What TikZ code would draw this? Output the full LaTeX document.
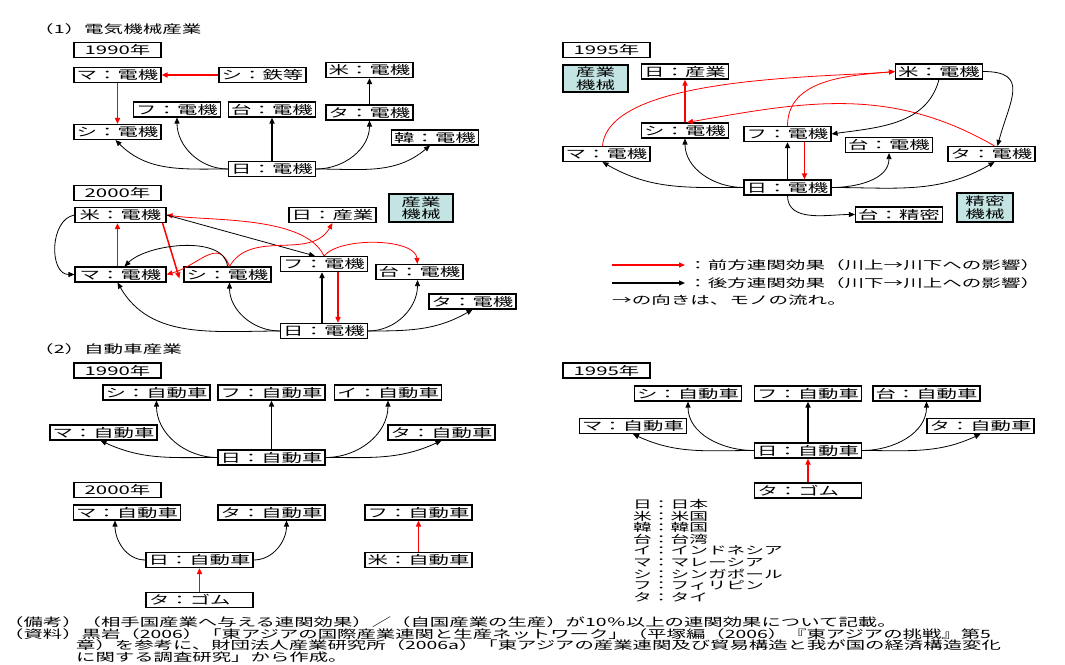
\documentclass[tikz,border=0pt]{standalone}
\usepackage{fontspec}
\setmainfont{Noto Sans CJK JP}[FakeStretch=1.7]
\usepackage{tikz}
\usetikzlibrary{arrows.meta}
\definecolor{paleteal}{HTML}{C4E4E4}

\begin{document}
\begin{tikzpicture}[x=1pt,y=1pt,
  bx/.style={draw,line width=1.1pt,fill=white,inner sep=1pt,minimum width=87pt,minimum height=15pt,font=\fontsize{12}{12}\selectfont},
  abx/.style={bx,minimum width=107pt},
  gbx/.style={abx,text width=101pt,align=left},
  tl/.style={draw,line width=1.1pt,fill=paleteal,inner sep=1pt,align=center,font=\fontsize{11.5}{12.5}\selectfont},
  fw/.style={-{Triangle[length=6pt,width=5pt]},red,line width=0.8pt},
  fws/.style={fw,line width=1.5pt},
  bw/.style={-{Triangle[length=6pt,width=5pt]},black,line width=0.8pt},
  bws/.style={bw,line width=1.5pt},
  txt/.style={inner sep=0pt,anchor=west,font=\fontsize{11.5}{12}\selectfont}]
  \path[use as bounding box,fill=white] (0,0) rectangle (1065,-664);

  \node[txt] (t1) at (34,-29) {（1）電気機械産業};
  \node[bx] (y90a) at (117.5,-50) {1990年};
  \node[bx] (ma1) at (117.5,-75) {マ：電機};
  \node[bx] (sgst1) at (262.5,-75) {シ：鉄等};
  \node[bx] (us1) at (369.5,-70) {米：電機};
  \node[bx] (ph1) at (177,-109.5) {フ：電機};
  \node[bx] (tw1) at (272,-109.5) {台：電機};
  \node[bx] (th1) at (369.5,-112.5) {タ：電機};
  \node[bx] (sg1) at (117.5,-132) {シ：電機};
  \node[bx] (kr1) at (435,-137.5) {韓：電機};
  \node[bx] (jp1) at (272,-169) {日：電機};
  \draw[fws] (sgst1) -- (ma1);
  \draw[fws] (ma1) -- (sg1);
  \draw[bws] (jp1) -- (tw1);
  \draw[bws] (th1) -- (us1);
  \draw[bw] (jp1.west) to[out=180,in=-45] ([xshift=-2pt]sg1.south);
  \draw[bw] (jp1.west) to[out=180,in=-90] (ph1.south);
  \draw[bw] (jp1.east) to[out=0,in=-90] (th1.south);
  \draw[bw] (jp1.east) to[out=0,in=-140] ([xshift=-5pt]kr1.south);

  \node[bx] (y95a) at (606.5,-50) {1995年};
  \node[tl,minimum width=65pt,minimum height=27pt] (ki1) at (595.5,-78.5) {産業\\機械};
  \node[bx] (jpi2) at (685,-71.5) {日：産業};
  \node[bx] (us2) at (939,-71.5) {米：電機};
  \node[bx] (sg2) at (685,-130.5) {シ：電機};
  \node[bx] (ph2) at (787.5,-134) {フ：電機};
  \node[bx] (tw2) at (889,-145) {台：電機};
  \node[bx] (ma2) at (606.5,-154) {マ：電機};
  \node[bx] (th2) at (991.5,-154) {タ：電機};
  \node[bx] (jp2) at (787.5,-187.5) {日：電機};
  \node[bx] (twp2) at (899,-214.5) {台：精密};
  \node[tl,minimum width=56pt,minimum height=29pt] (ki2) at (985,-207.5) {精密\\機械};
  \draw[fws] (sg2) -- (jpi2);
  \draw[fw] ([xshift=-4pt]ma2.north) to[out=85,in=185,looseness=0.6] (us2.west);
  \draw[fw] (ph2.north) to[out=90,in=185] (us2.west);
  \draw[fw] ([xshift=3pt]th2.north) to[out=150,in=10] ([xshift=2pt]sg2.north);
  \draw[fws] ([xshift=17pt]ph2.south) -- ([xshift=17pt]jp2.north);
  \draw[bws] (jp2) -- (ph2);
  \draw[bw] (us2.south) to[out=-105,in=8] (ph2.east);
  \draw[bw] (us2.east) to[out=0,in=75,looseness=1.6] ([xshift=6pt]th2.north);
  \draw[bw] (jp2.west) to[out=180,in=-30] ([xshift=-4pt]ma2.south);
  \draw[bw] (jp2.west) to[out=180,in=-90] (sg2.south);
  \draw[bw] (jp2.east) to[out=0,in=-90] (tw2.south);
  \draw[bw] (jp2.east) to[out=0,in=-150] ([xshift=3pt]th2.south);
  \draw[bw] (jp2.south) to[out=-90,in=180] (twp2.west);

  \node[bx] (y00a) at (117.5,-193) {2000年};
  \node[bx,minimum width=91pt] (us3) at (120.5,-215) {米：電機};
  \node[bx] (jpi3) at (332.5,-215) {日：産業};
  \node[tl,minimum width=64pt,minimum height=28pt] (ki3) at (421,-208) {産業\\機械};
  \node[bx] (ph3) at (324,-264) {フ：電機};
  \node[bx] (tw3) at (419.5,-272) {台：電機};
  \node[bx,minimum width=91pt] (ma3) at (120.5,-274.5) {マ：電機};
  \node[bx] (sg3) at (227.5,-274.5) {シ：電機};
  \node[bx] (th3) at (472.5,-301.5) {タ：電機};
  \node[bx] (jp3) at (324,-331) {日：電機};
  \draw[bw] (us3.west) to[out=190,in=180,looseness=1.1] (ma3.west);
  \draw[fws] ([xshift=-3pt]ma3.north) -- ([xshift=-3pt]us3.south);
  \draw[fws] ([xshift=-4pt]us3.south east) -- ([xshift=-4pt,yshift=4pt]sg3.south west);
  \draw[fw] (ph3.north) to[out=115,in=-8,looseness=0.7] (us3.east);
  \draw[bw] (us3.east) -- ([xshift=-9pt]ph3.north);
  \draw[fw] ([xshift=2pt]sg3.north) to[out=110,in=15,looseness=1.3] (ma3.east);
  \draw[bw] (sg3.north) to[out=95,in=45,looseness=0.8] ([xshift=4pt]ma3.north);
  \draw[fw] ([xshift=2pt]sg3.north) to[out=60,in=-120] (jpi3.south);
  \draw[fw] (ph3.north) to[out=50,in=95,looseness=0.7] ([xshift=-2pt]tw3.north);
  \draw[fws] ([xshift=14pt]ph3.south) -- ([xshift=14pt]jp3.north);
  \draw[bws] ([xshift=-2pt]jp3.north) -- ([xshift=-2pt]ph3.south);
  \draw[bw] (jp3.west) to[out=180,in=-60] ([xshift=-3pt]ma3.south);
  \draw[bw] (jp3.west) to[out=180,in=-90] ([xshift=2pt]sg3.south);
  \draw[bw] (jp3.east) to[out=0,in=-90] ([xshift=-2pt]tw3.south);
  \draw[bw] (jp3.east) to[out=0,in=-150] (th3.south);

  \coordinate (lf) at (612,-265);
  \node[txt] (lft) at (688,-265) {：前方連関効果（川上→川下への影響）};
  \draw[fw,line width=1.2pt] (lf) -- ([xshift=-3pt]lft.west);
  \coordinate (lb) at (612,-283);
  \node[txt] (lbt) at (688,-283) {：後方連関効果（川下→川上への影響）};
  \draw[bw,line width=1.2pt] (lb) -- ([xshift=-3pt]lbt.west);
  \node[txt] (lnt) at (612,-300) {→の向きは、モノの流れ。};

  \node[txt] (t2) at (34,-349) {（2）自動車産業};
  \node[bx] (y90b) at (117.5,-370.5) {1990年};
  \node[abx] (sg4) at (156.5,-392.5) {シ：自動車};
  \node[abx] (ph4) at (271.5,-392.5) {フ：自動車};
  \node[abx] (id4) at (388,-392.5) {イ：自動車};
  \node[abx] (ma4) at (103.5,-432.5) {マ：自動車};
  \node[abx] (th4) at (441.5,-432.5) {タ：自動車};
  \node[abx] (jp4) at (271.5,-457.5) {日：自動車};
  \draw[bws] (jp4) -- (ph4);
  \draw[bw] (jp4.west) to[out=180,in=-90] (sg4.south);
  \draw[bw] (jp4.west) to[out=180,in=-25] ([xshift=-3pt]ma4.south);
  \draw[bw] (jp4.east) to[out=0,in=-90] (id4.south);
  \draw[bw] (jp4.east) to[out=0,in=-155] (th4.south);

  \node[bx] (y00b) at (117.5,-490) {2000年};
  \node[abx] (ma5) at (127,-512.5) {マ：自動車};
  \node[abx] (th5) at (271.5,-512.5) {タ：自動車};
  \node[abx] (ph5) at (418.5,-512.5) {フ：自動車};
  \node[abx] (jp5) at (199.5,-560) {日：自動車};
  \node[abx] (us5) at (418.5,-560) {米：自動車};
  \node[gbx] (th5g) at (199.5,-600) {タ：ゴム};
  \draw[bw] (jp5.west) to[out=180,in=-90] ([xshift=-12pt]ma5.south);
  \draw[bw] (jp5.east) to[out=0,in=-90] ([xshift=15pt]th5.south);
  \draw[fws] (th5g) -- (jp5);
  \draw[fws] (us5) -- (ph5);

  \node[bx] (y95b) at (606.5,-370.5) {1995年};
  \node[abx] (sg6) at (688,-393.5) {シ：自動車};
  \node[abx] (ph6) at (808,-393.5) {フ：自動車};
  \node[abx] (tw6) at (926.5,-393.5) {台：自動車};
  \node[abx] (ma6) at (633,-426) {マ：自動車};
  \node[abx] (th6) at (980.5,-426) {タ：自動車};
  \node[abx] (jp6) at (808,-450.5) {日：自動車};
  \node[gbx] (th6g) at (808,-490.5) {タ：ゴム};
  \draw[bws] (jp6) -- (ph6);
  \draw[bw] (jp6.west) to[out=180,in=-90] (sg6.south);
  \draw[bw] (jp6.west) to[out=180,in=-25] (ma6.south);
  \draw[bw] (jp6.east) to[out=0,in=-90] (tw6.south);
  \draw[bw] (jp6.east) to[out=0,in=-155] (th6.south);
  \draw[fws] (th6g) -- (jp6);

  \node[inner sep=0pt,anchor=north west,align=left,font=\fontsize{11}{11.6}\selectfont] (abbr) at (633,-499) {日：日本\\米：米国\\韓：韓国\\台：台湾\\イ：インドネシア\\マ：マレーシア\\シ：シンガポール\\フ：フィリピン\\タ：タイ};

  \node[inner sep=0pt,anchor=north west,align=left,font=\fontsize{11.4}{11.4}\selectfont] (note) at (4,-617) {（備考）（相手国産業へ与える連関効果）／（自国産業の生産）が10％以上の連関効果について記載。\\（資料）黒岩（2006）「東アジアの国際産業連関と生産ネットワーク」（平塚編（2006）『東アジアの挑戦』第5\\\hspace*{72pt}章）を参考に、財団法人産業研究所（2006a）「東アジアの産業連関及び貿易構造と我が国の経済構造変化\\\hspace*{72pt}に関する調査研究」から作成。};
\end{tikzpicture}
\end{document}
